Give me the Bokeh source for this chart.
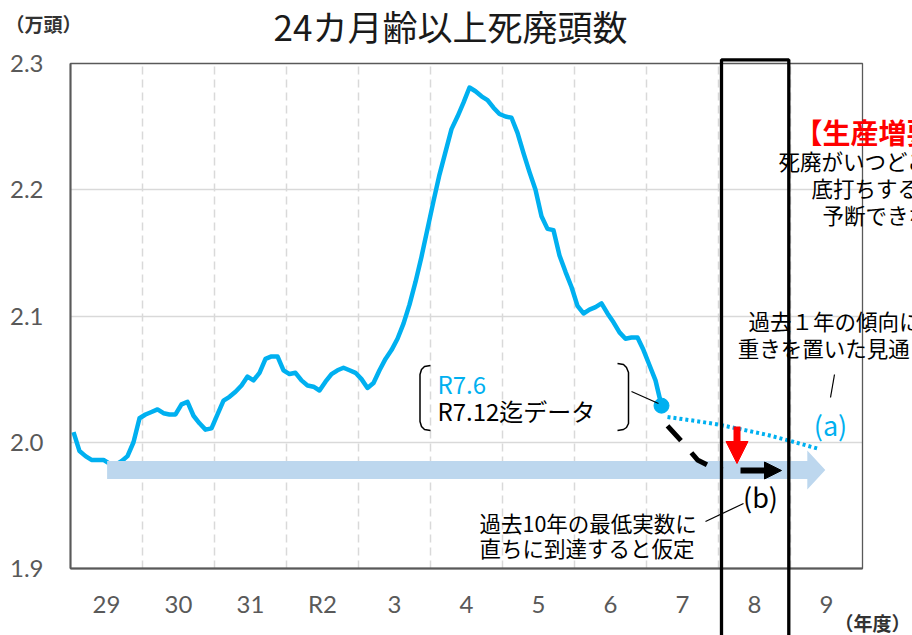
from bokeh.plotting import figure
from bokeh.models import (Range1d, FixedTicker, Label, BoxAnnotation, Arrow,
                          NormalHead, NumeralTickFormatter)
from bokeh.embed import file_html
from bokeh.resources import INLINE

# ---------------- data ----------------
years = ["29", "30", "31", "R2", "3", "4", "5", "6", "7", "8", "9"]
y_ticks = [1.9, 2.0, 2.1, 2.2, 2.3]

# monthly deaths/culls of cattle aged 24 months+ (10,000 head), Apr H29 .. R7.6
monthly = [
    2.008, 1.993, 1.989, 1.986, 1.986, 1.986, 1.983, 1.982, 1.985, 1.989, 2.000, 2.019,
    2.022, 2.024, 2.026, 2.023, 2.022, 2.022, 2.030, 2.032, 2.021, 2.015, 2.010, 2.011,
    2.022, 2.033, 2.036, 2.040, 2.045, 2.052, 2.049, 2.055, 2.066, 2.068, 2.068, 2.057,
    2.054, 2.055, 2.049, 2.045, 2.044, 2.041, 2.048, 2.054, 2.057, 2.059, 2.057, 2.055,
    2.050, 2.043, 2.047, 2.057, 2.066, 2.073, 2.082, 2.094, 2.109, 2.127, 2.147, 2.169,
    2.191, 2.212, 2.230, 2.248, 2.258, 2.269, 2.281, 2.278, 2.274, 2.271, 2.265, 2.260,
    2.258, 2.257, 2.245, 2.229, 2.214, 2.200, 2.179, 2.169, 2.168, 2.148, 2.135, 2.123,
    2.108, 2.102, 2.105, 2.107, 2.110, 2.102, 2.095, 2.087, 2.082, 2.083, 2.083, 2.073,
    2.061, 2.049, 2.029,
]
month_pos = [i + 0.5 for i in range(len(monthly))]

# projection (a): weighted on last-year trend
proj_a_pos = [99.5, 104, 108, 112, 116, 120, 124.5]
proj_a_val = [2.020, 2.017, 2.014, 2.010, 2.006, 2.001, 1.995]

# projection (b): immediately reaching the 10-year minimum
proj_b_pos = [99.5, 102, 104.5, 107, 108.7]
proj_b_val = [2.013, 2.000, 1.986, 1.980, 1.978]

min10_level = 1.978
min10_start = 6.1
min10_end = 125.8

N_MONTHS = 12 * len(years)
Y_MIN, Y_MAX = y_ticks[0], y_ticks[-1]


# ---- helpers: reference-picture pixel -> data (for annotation placement only) ----
def X(px):
    return (px - 70) / 6.0


def Y(py):
    return 1.9 + (568 - py) / 1262.5


JP = "Noto Sans CJK JP"
BLUE = "#00B0F0"
GRAY = "#595959"

W, H = 912, 635
p = figure(width=W, height=H,
           x_range=Range1d(X(0), X(W)), y_range=Range1d(Y(H), Y(0)),
           output_backend="svg", toolbar_location=None,
           min_border=0, min_border_left=0, min_border_right=0,
           min_border_top=0, min_border_bottom=0)
p.background_fill_color = "white"
p.border_fill_color = "white"
p.outline_line_color = None

# axes placed at the chart's frame via fixed locations
p.xaxis.ticker = FixedTicker(ticks=[6 + 12 * i for i in range(len(years))])
p.xaxis.major_label_overrides = {6 + 12 * i: y for i, y in enumerate(years)}
p.xaxis.fixed_location = Y_MIN
p.xaxis.bounds = (0, N_MONTHS)
p.yaxis.ticker = FixedTicker(ticks=y_ticks)
p.yaxis.formatter = NumeralTickFormatter(format="0.0")
p.yaxis.fixed_location = 0
p.yaxis.bounds = (Y_MIN, Y_MAX)
for ax in (p.xaxis, p.yaxis):
    ax.major_tick_line_color = None
    ax.minor_tick_line_color = None
    ax.major_tick_out = 0
    ax.major_tick_in = 0
    ax.axis_line_color = GRAY
    ax.axis_line_width = 2
    ax.major_label_text_font = "Lato"
    ax.major_label_text_font_size = "24px"
    ax.major_label_text_color = GRAY
p.xaxis.major_label_standoff = 20
p.yaxis.major_label_standoff = 27

# grid
p.xgrid.ticker = FixedTicker(ticks=[12 * i for i in range(1, len(years))])
p.xgrid.grid_line_color = "#d9d9d9"
p.xgrid.grid_line_width = 1.5
p.xgrid.grid_line_dash = "8 5"
p.ygrid.ticker = FixedTicker(ticks=y_ticks[1:-1])
p.ygrid.grid_line_color = "#d9d9d9"
p.ygrid.grid_line_width = 1.5
try:
    p.xgrid.cross_bounds = (Y_MIN, Y_MAX)
    p.ygrid.cross_bounds = (0, N_MONTHS)
except Exception:
    p.xgrid.visible = False
    p.ygrid.visible = False
    gx = [12 * i for i in range(1, len(years))]
    p.segment(x0=gx, y0=[Y_MIN] * len(gx), x1=gx, y1=[Y_MAX] * len(gx),
              line_color="#d9d9d9", line_width=1.5, line_dash="8 5")
    gy = y_ticks[1:-1]
    p.segment(x0=[0] * len(gy), y0=gy, x1=[N_MONTHS] * len(gy), y1=gy,
              line_color="#d9d9d9", line_width=1.5)

# plot-area border
p.add_layout(BoxAnnotation(left=0, right=N_MONTHS, bottom=Y_MIN, top=Y_MAX,
                           fill_color=None, fill_alpha=0, line_color=GRAY,
                           line_alpha=1, line_width=1.3, level="underlay"))

# main series
p.line(month_pos, monthly, line_color=BLUE, line_width=4.5, line_join="round")
p.line(proj_a_pos, proj_a_val, line_color=BLUE, line_width=4, line_dash="3 3")
p.scatter([month_pos[-1]], [monthly[-1]], size=15, color=BLUE)

# light-blue arrow for 10-year minimum
half = 9 / 1262.5
head_half = 19.5 / 1262.5
shaft_end = min10_end - 3.0
p.patch([min10_start, shaft_end, shaft_end, min10_end, shaft_end, shaft_end, min10_start],
        [min10_level + half, min10_level + half, min10_level + head_half, min10_level,
         min10_level - head_half, min10_level - half, min10_level - half],
        fill_color="#BDD7EE", line_color=None)

# projection (b)
p.line(proj_b_pos, proj_b_val, line_color="black", line_width=5, line_dash="20 16")

# black arrow
p.add_layout(Arrow(end=NormalHead(size=17, fill_color="black", line_color="black", line_width=1),
                   x_start=X(740), y_start=Y(470), x_end=X(781), y_end=Y(470),
                   line_color="black", line_width=6))
# red arrow
p.add_layout(Arrow(end=NormalHead(size=22, fill_color="#FF0000", line_color="#FF0000", line_width=1),
                   x_start=X(736.5), y_start=Y(426), x_end=X(736.5), y_end=Y(463),
                   line_color="#FF0000", line_width=7))

# brackets around R7.6 / R7.12 label
lb = [(430, 365), (424, 366), (421, 369), (419.5, 374), (419.5, 421), (421, 426), (424, 429), (430, 430)]
rb = [(617, 363), (623, 364), (626, 367), (628, 372), (628, 423), (626, 427), (623, 429), (617, 430)]
for pts in (lb, rb):
    p.line([X(a) for a, b in pts], [Y(b) for a, b in pts], line_color="black", line_width=1.5)

# leader lines
p.segment(x0=[X(631), X(834), X(705)], y0=[Y(391), Y(374), Y(521)],
          x1=[X(658), X(830), X(743)], y1=[Y(403), Y(397), Y(503)],
          line_color="black", line_width=1.2)

# black frame around FY8
p.add_layout(BoxAnnotation(left=X(721), right=X(788.3), top=Y(59.3), bottom=Y(720),
                           fill_color=None, fill_alpha=0, line_color="black",
                           line_alpha=1, line_width=3.3))


def lab(x, y, text, size, color="black", align="left", style="normal", font=JP):
    p.add_layout(Label(x=X(x), y=Y(y), text=text, text_font=font,
                       text_font_size=size, text_color=color, text_align=align,
                       text_baseline="middle", text_font_style=style))


lab(450, 25, "24カ月齢以上死廃頭数", "35px", "#1a1a1a", "center")
lab(5, 22.5, "（万頭）", "19px", "#333333", style="bold")
lab(834, 622, "（年度）", "19px", "#333333", style="bold")

lab(437, 382.5, "R7.6", "24px", BLUE)
lab(437, 410, "R7.12迄データ", "24px", "black")

lab(830, 424, "(a)", "27px", BLUE, "center")
lab(760, 496, "(b)", "27px", "black", "center")

lab(479, 522, "過去10年の最低実数に", "21.5px")
lab(479, 546.5, "直ちに到達すると仮定", "21.5px")

lab(834, 320, "過去１年の傾向に", "21.5px", "black", "center")
lab(834, 346.5, "重きを置いた見通し", "21.5px", "black", "center")

lab(794, 131, "【生産増要因】", "28px", "#FF0000", style="bold")
lab(778, 160, "死廃がいつどこで", "21.5px")
lab(811, 187, "底打ちするか", "21.5px")
lab(822, 213.5, "予断できない", "21.5px")

open("out.html", "w").write(file_html(p, INLINE))
